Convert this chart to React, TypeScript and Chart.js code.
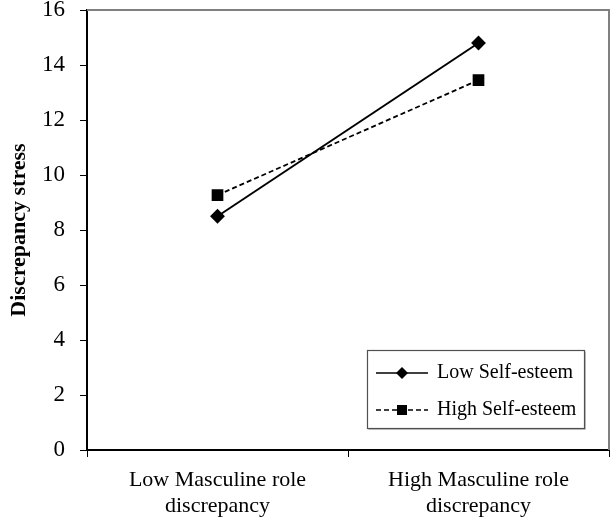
import React, { useEffect, useRef } from "react";
import { Chart, registerables } from "chart.js";

Chart.register(...registerables);

const categories: string[][] = [
  ["Low Masculine role", "discrepancy"],
  ["High Masculine role", "discrepancy"],
];
const lowSelfEsteem: number[] = [8.5, 14.8];
const highSelfEsteem: number[] = [9.27, 13.45];
const seriesNames: string[] = ["Low Self-esteem", "High Self-esteem"];
const yTitle = "Discrepancy stress";

const FONT = "'Liberation Serif', 'Times New Roman', serif";

const framePlugin = {
  id: "frameAndLegend",
  afterDraw(chart: any) {
    const { ctx, chartArea } = chart;
    ctx.save();
    ctx.strokeStyle = "#808080";
    ctx.lineWidth = 2;
    ctx.beginPath();
    ctx.moveTo(chartArea.left, chartArea.top);
    ctx.lineTo(chartArea.right, chartArea.top);
    ctx.lineTo(chartArea.right, chartArea.bottom);
    ctx.stroke();

    const bx = 367, by = 350, bw = 217, bh = 78;
    ctx.fillStyle = "#ffffff";
    ctx.fillRect(bx, by, bw, bh);
    ctx.strokeStyle = "#c0c0c0";
    ctx.lineWidth = 1;
    ctx.beginPath();
    ctx.moveTo(bx + 1.5, by + bh + 1.5);
    ctx.lineTo(bx + bw + 1.5, by + bh + 1.5);
    ctx.lineTo(bx + bw + 1.5, by + 1.5);
    ctx.stroke();
    ctx.strokeStyle = "#505050";
    ctx.lineWidth = 1.2;
    ctx.strokeRect(bx + 0.5, by + 0.5, bw, bh);

    const rows = [by + 23, by + 60];
    chart.data.datasets.forEach((ds: any, i: number) => {
      const y = rows[i];
      ctx.strokeStyle = "#000";
      ctx.lineWidth = 1.6;
      ctx.setLineDash(ds.borderDash || []);
      ctx.beginPath();
      ctx.moveTo(376, y);
      ctx.lineTo(428, y);
      ctx.stroke();
      ctx.setLineDash([]);
      ctx.fillStyle = "#000";
      const cx = 402;
      if (ds.pointStyle === "rectRot") {
        const r = 6;
        ctx.beginPath();
        ctx.moveTo(cx, y - r);
        ctx.lineTo(cx + r, y);
        ctx.lineTo(cx, y + r);
        ctx.lineTo(cx - r, y);
        ctx.closePath();
        ctx.fill();
      } else {
        ctx.fillRect(cx - 5, y - 5, 10, 10);
      }
      ctx.font = `20px ${FONT}`;
      ctx.textBaseline = "middle";
      ctx.textAlign = "left";
      ctx.fillText(ds.label, 437, y);
    });
    ctx.restore();
  },
};

export default function App() {
  const ref = useRef<HTMLCanvasElement>(null);
  useEffect(() => {
    document.body.style.margin = "0";
    const chart = new Chart(ref.current!, {
      type: "line",
      data: {
        labels: categories,
        datasets: [
          {
            label: seriesNames[0],
            data: lowSelfEsteem,
            borderColor: "#000",
            backgroundColor: "#000",
            borderWidth: 2,
            pointStyle: "rectRot",
            pointRadius: 6,
            pointHoverRadius: 6,
          },
          {
            label: seriesNames[1],
            data: highSelfEsteem,
            borderColor: "#000",
            backgroundColor: "#000",
            borderWidth: 1.8,
            borderDash: [5, 3],
            pointStyle: "rect",
            pointRadius: 7,
            pointHoverRadius: 7,
          },
        ],
      },
      options: {
        animation: false,
        responsive: false,
        maintainAspectRatio: false,
        events: [],
        layout: { autoPadding: false, padding: { left: 0, top: 10, right: 2, bottom: 0 } },
        plugins: { legend: { display: false }, tooltip: { enabled: false } },
        scales: {
          x: {
            offset: true,
            grid: { drawOnChartArea: false, offset: true, tickLength: 7, color: "#000", lineWidth: 1 },
            border: { color: "#000", width: 2 },
            ticks: {
              color: "#000",
              font: { family: FONT, size: 22, lineHeight: 1.15 },
              padding: 11,
              maxRotation: 0,
              autoSkip: false,
            },
            afterFit(scale: any) {
              scale.height = 67;
              scale.paddingLeft = 0;
              scale.paddingRight = 0;
            },
          },
          y: {
            min: 0,
            max: 16,
            ticks: {
              stepSize: 2,
              color: "#000",
              font: { family: FONT, size: 23 },
              padding: 15,
            },
            grid: { drawOnChartArea: false, tickLength: 7, color: "#000", lineWidth: 1 },
            border: { color: "#000", width: 2 },
            title: {
              display: true,
              text: yTitle,
              color: "#000",
              font: { family: FONT, size: 22, weight: "bold" },
              padding: { top: 6, bottom: 0 },
            },
            afterFit(scale: any) {
              scale.width = 87;
              scale.paddingTop = 0;
              scale.paddingBottom = 0;
            },
          },
        },
      },
      plugins: [framePlugin],
    });
    return () => chart.destroy();
  }, []);
  return (
    <div style={{ width: 611, height: 517 }}>
      <canvas ref={ref} width={611} height={517} style={{ display: "block" }} />
    </div>
  );
}
